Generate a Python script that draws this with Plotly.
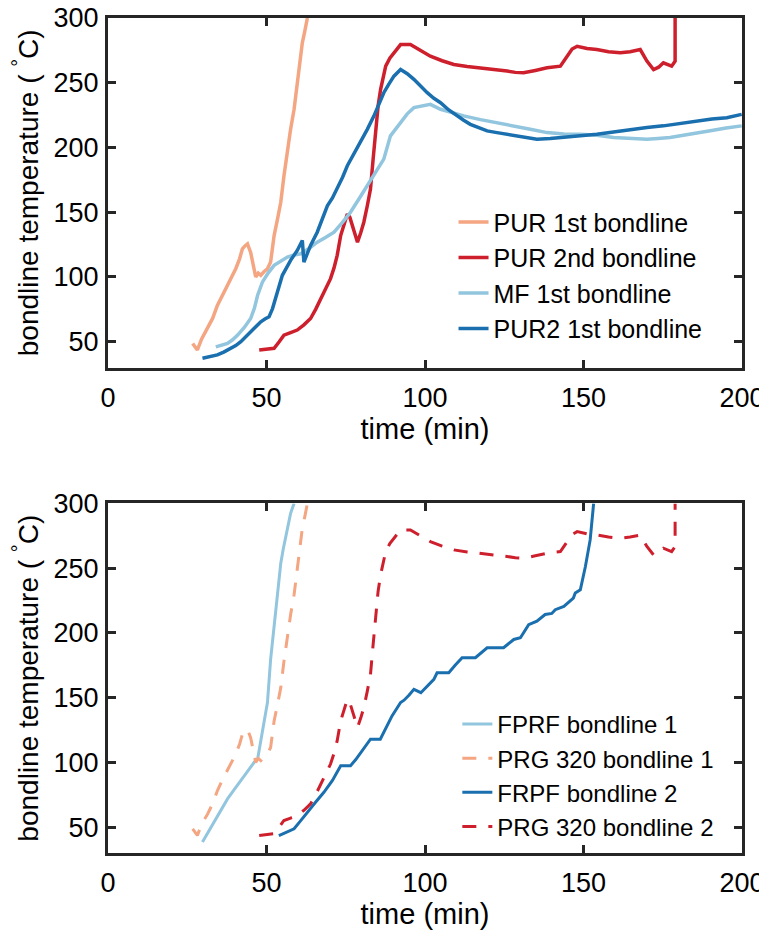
#Bondline temperature curves, two panels
import plotly.graph_objects as go
from plotly.subplots import make_subplots

# colours (RdBu style)
c_orange = '#F4A582'
c_red = '#CE1F2D'
c_lblue = '#92C5DE'
c_blue = '#1A6FAF'

# PUR 1st bondline (same curve is PRG 320 bondline 1 below)
pur1_t = [26.7, 28.2, 29.5, 31.4, 33.0, 34.5, 36.0, 37.7, 39.0, 40.3, 41.5, 42.4, 43.2, 44.0, 45.0,
          45.6, 46.1, 46.6, 47.4, 48.2, 49.2, 50.3, 51.3, 52.4, 53.5, 54.5, 55.5, 56.6, 57.6, 58.7,
          59.7, 60.5, 61.3, 62.1, 62.9]
pur1_T = [48.7, 43.6, 52, 60, 68, 78, 86, 93.6, 100, 106.4, 114, 121.8, 124, 125.6, 119,
          112, 106.4, 100, 103, 101.3, 104, 106.4, 111.5, 132, 145, 157.7, 178, 198.7, 214, 229.5,
          250, 262, 280.8, 290, 300]

# PUR 2nd bondline (same curve is PRG 320 bondline 2 below)
pur2nd_t = [47.7, 50, 52.4, 54, 55.5, 57.6, 59.7, 61.8, 63.9, 65.5, 67.1, 68.7, 70.2, 71.3, 72.3,
            73.4, 74.5, 75.5, 76.3, 77.1, 78.7, 79.7, 80.7, 81.8, 82.8, 83.6, 84.4, 85.2, 86, 87.6,
            88.9, 90.2, 92.3, 95.4, 98.5, 101.7, 105.4, 109.1, 113.3, 117.5, 121.7, 125.9, 128.5,
            131.1, 134.8, 138.5, 142.7, 144.8, 146.4, 148, 151.1, 154.2, 157.9, 161.6, 164.7, 167.9,
            170, 172.1, 173.7, 175.2, 177.8, 178.9, 178.9]
pur2nd_T = [43.6, 44, 44.9, 50, 55.1, 57, 59, 63, 67.9, 75, 83.3, 91, 98.7, 107, 116.7,
            132, 141, 148.7, 146, 139.7, 126.9, 134, 142.3, 155, 167.9, 190, 214.1, 232, 244.9, 262.8,
            269, 273.1, 279.5, 279.5, 275, 270.5, 267, 264.1, 262.5, 261.5, 260, 259, 258,
            257.7, 259.5, 261.5, 262.8, 270.5, 276, 278.2, 276.5, 275.6, 274, 273.1, 274, 275.6,
            266.7, 260.2, 262, 265.4, 262.8, 266.7, 300]

# MF 1st bondline
mf1_t = [34, 36, 37.7, 39.3, 40.9, 43, 45, 46.2, 47.2, 48.7, 50.5, 52.4, 54.5, 56.6, 58.7, 60.8,
         63.4, 66, 68.6, 71.3, 73.9, 76.5, 79.1, 81.8, 84.4, 87, 89.1, 92.3, 94.4, 96.5, 99, 101.7,
         104.9, 108.5, 112.2, 117.5, 122.7, 128, 133.2, 138.5, 143.8, 149, 154.2, 159.5, 164.7,
         170, 173.5, 177.3, 181.5, 185.7, 190, 195, 199.9]
mf1_T = [46, 47.5, 48.7, 51.5, 55.1, 61, 67.9, 76, 85.9, 96, 103, 109, 112.5, 115.4, 117, 117.9,
         122, 126.9, 130.5, 134.6, 142, 150, 160, 170.5, 181, 191, 209, 219, 226, 230.8, 232, 233.3,
         229.5, 227, 224.4, 221.5, 219.2, 216.5, 214.1, 211.5, 210.5, 210.3, 209.5, 207.7, 207,
         206.4, 207, 207.7, 209.5, 211.5, 213, 215, 216.7]

# PUR2 1st bondline
pur21_t = [29.8, 32, 34.5, 36.5, 38.7, 40.3, 41.9, 43.5, 45, 46.6, 48.2, 49.5, 50.8, 51.9, 53.4,
           55, 56.3, 57.6, 59.7, 61.3, 61.8, 63.9, 66, 67.6, 69.2, 70.8, 72.3, 74, 75.5, 77.6, 79.7,
           81.8, 83.9, 85.5, 87, 88.6, 90.2, 92.3, 94.4, 96.5, 98.6, 100.7, 102.8, 104.9, 107.5,
           110.1, 112.2, 114.3, 117, 119.6, 122.7, 125.9, 130.6, 135.3, 139.5, 143.8, 149, 154.2,
           159.5, 164.7, 170, 175.2, 180.5, 185.7, 190.5, 195.2, 199.9]
pur21_T = [37.2, 38.5, 39.8, 42, 44.9, 47, 50, 54, 57.7, 62, 65.4, 67.5, 69.2, 75.6, 88.5,
           101.3, 107, 112.8, 120.5, 128.2, 111.5, 124.4, 134.6, 145, 155, 161, 167.9, 177, 185.9,
           195, 203.8, 214, 224.4, 233, 242.3, 249, 255.1, 260.2, 257, 252.6, 247, 242.3, 238, 234.6,
           229, 224.4, 221, 217.9, 215, 212.8, 211.5, 210.3, 208, 206.4, 207, 207.7, 209, 210.3,
           212, 214.1, 215.5, 216.7, 218.5, 220.5, 222, 223, 225.6]

# FPRF bondline 1
fprf1_t = [29.8, 31.6, 33.5, 35.6, 37.7, 39.8, 41.9, 44, 46.1, 47.2, 48.7, 50.3, 51.3, 52.4, 53.4,
           54.5, 55.3, 56.1, 57.6, 58.7]
fprf1_T = [38.5, 46, 53.8, 63, 71.8, 79, 85.9, 93, 100, 102.6, 123, 146.2, 179.5, 205, 230.8,
           253.8, 265, 274.4, 292.3, 300]

# FRPF bondline 2
frpf2_t = [53.9, 56.3, 58.7, 60.8, 62.8, 65.4, 68.1, 70.8, 73.4, 76.5, 78.1, 79.7, 82.8, 85.9,
           87.5, 89.6, 92.3, 93.4, 95, 96.5, 98.7, 100.5, 102.8, 103.8, 107.5, 109.5, 111.7, 115.9,
           117.8, 119.6, 124.8, 128, 130.1, 132.7, 135.3, 137.9, 140, 141.1, 143.8, 146.8, 147.4,
           149, 150.6, 152.1, 153.2]
frpf2_T = [43.5, 46, 48.7, 55, 61.5, 69, 76.9, 86, 97.4, 97.4, 102, 107.7, 117.9, 117.9,
           126, 135.9, 146.2, 148, 152, 156.4, 153.8, 158, 164.1, 169.2, 169.2, 175, 180.8, 180.8,
           185, 188.5, 188.5, 194.9, 196.2, 206.4, 209, 214.2, 215, 217.9, 220.5, 226.9, 230.8,
           233.3, 251.2, 271.8, 300]

x_ticks = [0, 50, 100, 150, 200]
y_ticks = [50, 100, 150, 200, 250, 300]

fig = make_subplots(rows=2, cols=1)

lw_top = 3.5
lw = 3
# top panel
fig.add_trace(go.Scatter(x=pur1_t, y=pur1_T, mode='lines', name='PUR 1st bondline',
                         line=dict(color=c_orange, width=lw_top), legend='legend'), row=1, col=1)
fig.add_trace(go.Scatter(x=pur2nd_t, y=pur2nd_T, mode='lines', name='PUR 2nd bondline',
                         line=dict(color=c_red, width=lw_top), legend='legend'), row=1, col=1)
fig.add_trace(go.Scatter(x=mf1_t, y=mf1_T, mode='lines', name='MF 1st bondline',
                         line=dict(color=c_lblue, width=lw_top), legend='legend'), row=1, col=1)
fig.add_trace(go.Scatter(x=pur21_t, y=pur21_T, mode='lines', name='PUR2 1st bondline',
                         line=dict(color=c_blue, width=lw_top), legend='legend'), row=1, col=1)

# bottom panel
dash = '14px,12px'
fig.add_trace(go.Scatter(x=fprf1_t, y=fprf1_T, mode='lines', name='FPRF bondline 1',
                         line=dict(color=c_lblue, width=lw), legend='legend2'), row=2, col=1)
fig.add_trace(go.Scatter(x=pur1_t, y=pur1_T, mode='lines', name='PRG 320 bondline 1',
                         line=dict(color=c_orange, width=lw, dash=dash), legend='legend2'), row=2, col=1)
fig.add_trace(go.Scatter(x=frpf2_t, y=frpf2_T, mode='lines', name='FRPF bondline 2',
                         line=dict(color=c_blue, width=lw), legend='legend2'), row=2, col=1)
fig.add_trace(go.Scatter(x=pur2nd_t, y=pur2nd_T, mode='lines', name='PRG 320 bondline 2',
                         line=dict(color=c_red, width=lw, dash=dash), legend='legend2'), row=2, col=1)

axis_style = dict(showline=True, mirror='ticks', linecolor='#262626', linewidth=3,
                  ticks='inside', ticklen=8, tickwidth=2.5, tickcolor='#262626',
                  showgrid=False, zeroline=False, automargin=False,
                  ticklabeloverflow='allow', tickfont=dict(size=27, color='black'))

fig.update_xaxes(range=[0, 200], tickvals=x_ticks, ticklabelstandoff=4,
                 title=dict(text='time (min)', font=dict(size=29, color='black'), standoff=6),
                 **axis_style)
fig.update_yaxes(range=[30, 300], tickvals=y_ticks, ticklabelstandoff=1,
                 title=dict(text='bondline temperature ( <sup>°</sup>C)',
                            font=dict(size=28, color='black'), standoff=7),
                 **axis_style)

# panel heights (page body adds an 8px offset)
fig.update_yaxes(domain=[0.5813, 1.0], row=1, col=1)
fig.update_yaxes(domain=[0.0, 0.4187], row=2, col=1)

fig.update_layout(
    width=759, height=929,
    margin=dict(l=100, r=25, t=10, b=84),
    font=dict(family='Liberation Sans, Arial, sans-serif', color='black'),
    paper_bgcolor='white', plot_bgcolor='white',
    legend=dict(x=0.545, y=0.783, xanchor='left', yanchor='top',
                font=dict(size=25, color='black'), bgcolor='rgba(0,0,0,0)', tracegroupgap=0),
    legend2=dict(x=0.551, y=0.181, xanchor='left', yanchor='top',
                 font=dict(size=24, color='black'), bgcolor='rgba(0,0,0,0)', tracegroupgap=0),
)

fig.write_html('out.html')
